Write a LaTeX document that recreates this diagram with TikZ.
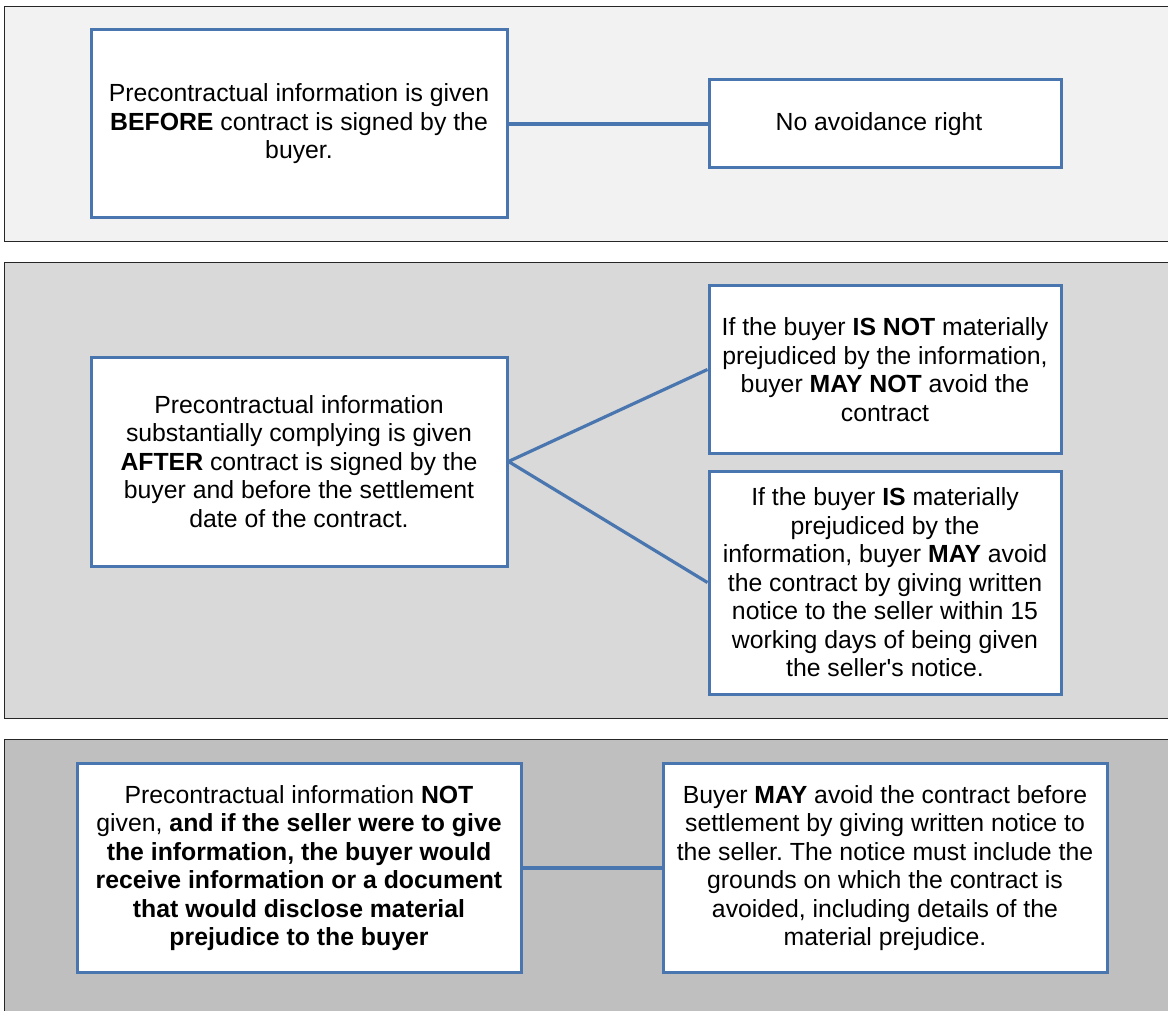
\documentclass[tikz,border=0pt]{standalone}
\usepackage{fontspec}
\setmainfont{Liberation Sans}[Ligatures=TeXOff]
\frenchspacing
\begin{document}
\begin{tikzpicture}[x=1pt,y=-1pt,
  band/.style={draw=black!85,line width=1pt},
  infobox/.style={draw=boxblue,line width=3pt,fill=white,inner sep=0pt,align=center,
    font=\fontsize{24.8}{28.5}\selectfont},
  link/.style={draw=boxblue,line width=3.2pt}]
\definecolor{boxblue}{HTML}{4A76B0}
\useasboundingbox (0,0) rectangle (1168,1011);
% bands
\path[band,fill=black!5] (4,7) rectangle (1172,242);
\path[band,fill=black!15] (4,263) rectangle (1172,718);
\path[band,fill=black!25] (4,739) rectangle (1172,1015);
% band 1
\node[infobox,minimum width=416,minimum height=188] (a1) at (299,124)
  {Precontractual information is given\\\textbf{BEFORE} contract is signed by the\\buyer.};
\node[infobox,minimum width=352,minimum height=88] (a2) at (885,124)
  {\hspace*{-12pt}No avoidance right};
\draw[link] (a1.east) -- (a2.west);
% band 2
\node[infobox,minimum width=416,minimum height=209] (b1) at (299,461.5)
  {Precontractual information\\substantially complying is given\\\textbf{AFTER} contract is signed by the\\buyer and before the settlement\\date of the contract.};
\node[infobox,minimum width=352,minimum height=167] (b2) at (885,369.5)
  {If the buyer \textbf{IS NOT} materially\\prejudiced by the information,\\buyer \textbf{MAY NOT} avoid the\\contract};
\node[infobox,minimum width=352,minimum height=223] (b3) at (885,582.5)
  {If the buyer \textbf{IS} materially\\prejudiced by the\\information, buyer \textbf{MAY} avoid\\the contract by giving written\\notice to the seller within 15\\working days of being given\\the seller's notice.};
\draw[link] (b1.east) -- (b2.west);
\draw[link] (b1.east) -- (b3.west);
% band 3
\node[infobox,minimum width=444,minimum height=209] (c1) at (299,868)
  {Precontractual information \textbf{NOT}\\given, \textbf{and if the seller were to give}\\\textbf{the information, the buyer would}\\\textbf{receive information or a document}\\\textbf{that would disclose material}\\\textbf{prejudice to the buyer}};
\node[infobox,minimum width=444,minimum height=209] (c2) at (885,868)
  {Buyer \textbf{MAY} avoid the contract before\\settlement by giving written notice to\\the seller. The notice must include the\\grounds on which the contract is\\avoided, including details of the\\material prejudice.};
\draw[link] (c1.east) -- (c2.west);
\end{tikzpicture}
\end{document}
